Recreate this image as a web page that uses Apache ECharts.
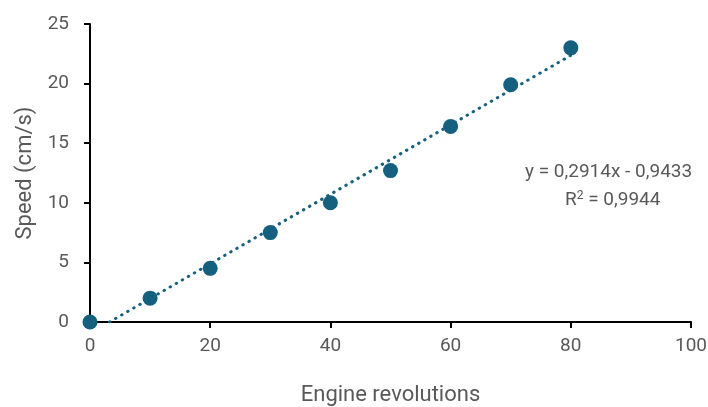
<!DOCTYPE html>
<html><head><meta charset="utf-8">
<script src="https://cdn.jsdelivr.net/npm/echarts@6/dist/echarts.min.js"></script>
<style>html,body{margin:0;padding:0;background:#fff}#c{width:708px;height:407px}</style>
</head><body><div id="c"></div>
<script>
const revolutions = [0, 10, 20, 30, 40, 50, 60, 70, 80];
const speeds = [0, 2.0, 4.5, 7.5, 10.0, 12.7, 16.4, 19.9, 23.0];
const trendX = [3.24, 80];
const trendY = [0, 22.37];
const equationText = 'y = 0,2914x - 0,9433';
const r2Text = '0,9944';
const xTitle = 'Engine revolutions';
const yTitle = 'Speed (cm/s)';

const font = '"Roboto", sans-serif';
const chart = echarts.init(document.getElementById('c'));
chart.setOption({
  animation: false,
  grid: {left: 90, right: 17, top: 24, bottom: 85, outerBoundsMode: 'none', containLabel: false},
  xAxis: {
    type: 'value', min: 0, max: 100, interval: 20,
    name: xTitle, nameLocation: 'middle', nameGap: 62,
    nameTextStyle: {color: '#595959', fontSize: 22, fontFamily: font},
    axisLine: {show: true, lineStyle: {color: '#000', width: 2}},
    axisTick: {show: true, length: 6, lineStyle: {color: '#000', width: 2}},
    axisLabel: {color: '#595959', fontSize: 19, fontFamily: font, margin: 15},
    splitLine: {show: false}
  },
  yAxis: {
    type: 'value', min: 0, max: 25, interval: 5,
    name: yTitle, nameLocation: 'middle', nameGap: 52,
    nameTextStyle: {color: '#595959', fontSize: 22, fontFamily: font},
    axisLine: {show: true, lineStyle: {color: '#000', width: 2}},
    axisTick: {show: true, length: 6, lineStyle: {color: '#000', width: 2}},
    axisLabel: {color: '#595959', fontSize: 19, fontFamily: font, margin: 21},
    splitLine: {show: false}
  },
  series: [
    {
      type: 'line', data: trendX.map((x, i) => [x, trendY[i]]),
      symbol: 'none', z: 1,
      lineStyle: {color: '#15607f', width: 3, type: [0.5, 6.5], cap: 'round'}
    },
    {
      type: 'scatter', data: revolutions.map((x, i) => [x, speeds[i]]),
      symbolSize: 15, z: 2,
      itemStyle: {color: '#15607f', opacity: 1}
    }
  ],
  graphic: [
    {type: 'text', left: 525, top: 163, style: {text: equationText, fill: '#595959', font: '19px ' + font}},
    {type: 'text', left: 565, top: 190, style: {
      text: '{n|R}{s|2}{n| = ' + r2Text + '}',
      rich: {n: {fill: '#595959', fontSize: 19, fontFamily: font, verticalAlign: 'bottom'},
             s: {fill: '#595959', fontSize: 12, fontFamily: font, verticalAlign: 'top', padding: [0,0,8,0]}}
    }}
  ]
});
</script></body></html>
